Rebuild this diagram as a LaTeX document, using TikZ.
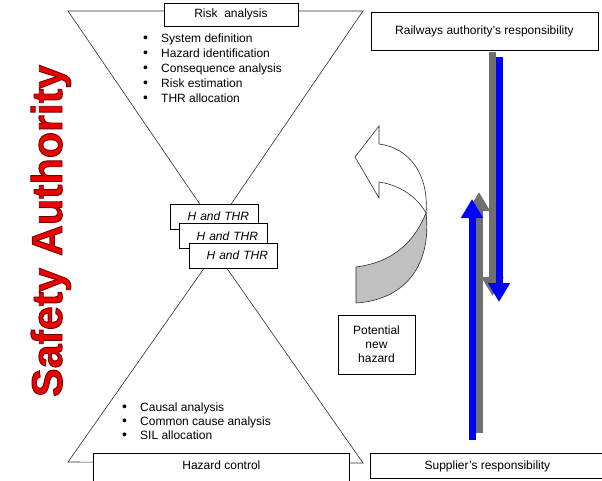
\documentclass[tikz,border=0pt]{standalone}
\usepackage{fontspec}
\setmainfont{Liberation Sans}
\usepackage{tikz}
\usetikzlibrary{arrows.meta}
\definecolor{lineColor}{RGB}{45,45,45}
\definecolor{shadowGray}{RGB}{112,112,112}
\definecolor{twistGray}{RGB}{192,192,192}
\definecolor{authorityRed}{RGB}{236,0,0}
\tikzstyle{screen} = [x = 1pt, y = -1pt]
\tikzstyle{triangleLine} = [color=lineColor, line width=.6pt]
\tikzstyle{whiteBox} = [draw=black, fill=white, line width=.8pt, font=\fontsize{12}{14}\selectfont, inner sep=0pt]
\tikzstyle{hBox} = [whiteBox, font=\fontsize{12}{14}\selectfont\itshape, text width=70pt, align=right, inner xsep=9pt, minimum height=25pt]
\tikzstyle{listText} = [anchor=west, inner sep=0pt, text height=9pt, text depth=3pt, font=\fontsize{12}{14}\selectfont]
\tikzstyle{bigArrow} = [line width=7pt, -{Triangle[width=21pt, length=19pt]}]
\tikzstyle{twistLine} = [draw=lineColor, line width=.6pt]
\newcommand{\bulletItem}[1]{\makebox[18pt][l]{\fontsize{14}{14}\selectfont\textbullet}#1}
\newcommand{\outlineText}[1]{\special{pdf:literal direct 2 Tr 0.9 w 0.45 0 0 RG}#1\special{pdf:literal direct 0 Tr}}

\begin{document}
\begin{tikzpicture}[screen]
\useasboundingbox (0,0) rectangle (602,480);
\clip (0,0) rectangle (602,480);
% hourglass
\draw [triangleLine] (68,11) -- (363,11) -- (215.5,227) -- cycle;
\draw [triangleLine] (68,462) -- (363,463) -- (215.5,252) -- cycle;
% risk analysis
\node [whiteBox, minimum width=134pt, minimum height=23pt] (riskBox) at (231,14.5) {Risk\ \ analysis};
\foreach \task [count=\i] in {System definition, Hazard identification, Consequence analysis, Risk estimation, THR allocation}
  \node [listText] (riskItem\i) at (143, 24 + 15*\i) {\bulletItem{\task}};
% hazards passed down
\node [hBox] (hThrA) at (214,216.5) {H and THR};
\node [hBox] (hThrB) at (223,236) {H and THR};
\node [hBox] (hThrC) at (233,255.5) {H and THR};
% hazard control
\foreach \task [count=\i] in {Causal analysis, Common cause analysis, SIL allocation}
  \node [listText] (controlItem\i) at (122, 394 + 14*\i) {\bulletItem{\task}};
\node [whiteBox, minimum width=256pt, minimum height=32pt, text height=9pt, text depth=9pt, anchor=north west] (hazardBox) at (93,453) {Hazard control};
% responsibilities
\node [whiteBox, minimum width=227pt, minimum height=38pt] (railBox) at (484.5,31) {Railways authority's responsibility};
\node [whiteBox, minimum width=234pt, minimum height=25pt, anchor=north west] (supplierBox) at (370,453) {Supplier's responsibility};
\node [whiteBox, minimum width=77pt, minimum height=59pt, align=center] (potentialBox) at (376.5,344.5) {Potential\\new\\hazard};
% twisted return arrow
\filldraw [twistLine, fill=twistGray] (426,213) .. controls (432,265) and (405,300) .. (356,303) -- (356,267) .. controls (395,262) and (415,240) .. (426,213) -- cycle;
\filldraw [twistLine, fill=white] (426,213) .. controls (429,175) and (410,148) .. (379,144) -- (379,126) -- (355,157) -- (379,198) -- (379,182) .. controls (400,185) and (417,197) .. (426,213) -- cycle;
% responsibility arrows
\coordinate (downStartGray) at (492.5,52);
\coordinate (downEndGray) at (492.5,296);
\coordinate (downStartBlue) at (499,57);
\coordinate (downEndBlue) at (499,302);
\coordinate (upStartGray) at (479,433);
\coordinate (upEndGray) at (479,192);
\coordinate (upStartBlue) at (472,440);
\coordinate (upEndBlue) at (472,199);
\draw [bigArrow, shadowGray] (downStartGray) -- (downEndGray);
\draw [bigArrow, blue] (downStartBlue) -- (downEndBlue);
\draw [bigArrow, shadowGray] (upStartGray) -- (upEndGray);
\draw [bigArrow, blue] (upStartBlue) -- (upEndBlue);
% side title
\node [rotate=90, anchor=base, text=authorityRed, inner sep=0pt, font=\fontsize{43}{44}\selectfont\bfseries] (safetyLabel) at (62,231) {\outlineText{Safety Authority}};
\end{tikzpicture}
\end{document}
